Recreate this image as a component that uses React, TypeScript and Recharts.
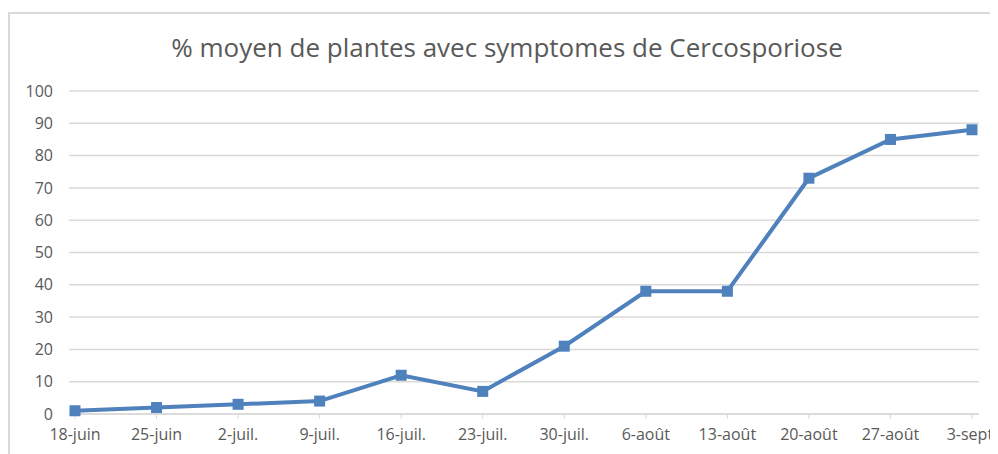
import { LineChart, Line, XAxis, YAxis, CartesianGrid } from "recharts"

const dates = [
  "18-juin", "25-juin", "2-juil.", "9-juil.", "16-juil.", "23-juil.",
  "30-juil.", "6-août", "13-août", "20-août", "27-août", "3-sept.",
]
const percent = [1, 2, 3, 4, 12, 7, 21, 38, 38, 73, 85, 88]
const yTicks = [0, 10, 20, 30, 40, 50, 60, 70, 80, 90, 100]

const data = dates.map((d, i) => ({ date: d, value: percent[i] }))

const FONT = "'Open Sans', 'Noto Sans', sans-serif"
const GREY = "#595959"
const BLUE = "#4F81BD"

function SquareDot(props: any) {
  const { cx, cy } = props
  if (cx == null || cy == null) return null
  return <rect x={cx - 5.5} y={cy - 5.5} width={11} height={11} fill={BLUE} />
}

export default function App() {
  return (
    <div
      style={{
        position: "relative",
        marginTop: 4,
        width: 990,
        height: 442,
        borderLeft: "2px solid #d9d9d9",
        borderTop: "2px solid #d9d9d9",
        boxSizing: "border-box",
        fontFamily: FONT,
        overflow: "hidden",
      }}
    >
      <div
        style={{
          position: "absolute",
          left: 0,
          width: 994,
          top: 15,
          textAlign: "center",
          fontSize: 26,
          color: GREY,
        }}
      >
        % moyen de plantes avec symptomes de Cercosporiose
      </div>
      <LineChart
        width={988}
        height={440}
        data={data}
        margin={{ top: 77, right: 19, bottom: 0, left: 0 }}
      >
        <CartesianGrid vertical={false} stroke="#d9d9d9" strokeWidth={1.5} />
        <XAxis
          dataKey="date"
          height={40}
          padding={{ left: 6, right: 7 }}
          tickLine={{ stroke: "#d9d9d9" }}
          axisLine={{ stroke: "#d9d9d9", strokeWidth: 1.5 }}
          tickSize={5}
          tickMargin={10}
          interval={0}
          tick={{ fill: GREY, fontSize: 16, fontFamily: FONT }}
        />
        <YAxis
          width={59}
          domain={[0, 100]}
          ticks={yTicks}
          axisLine={false}
          tickLine={false}
          tickSize={6}
          tickMargin={10}
          tick={{ fill: GREY, fontSize: 16, fontFamily: FONT }}
        />
        <Line
          type="linear"
          dataKey="value"
          stroke={BLUE}
          strokeWidth={4}
          dot={<SquareDot />}
          activeDot={false}
          isAnimationActive={false}
        />
      </LineChart>
    </div>
  )
}
